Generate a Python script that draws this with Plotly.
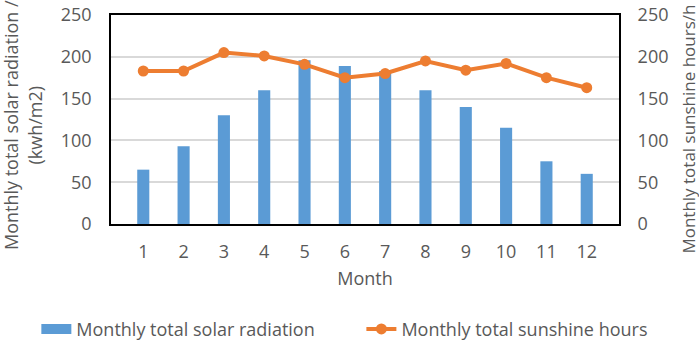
import plotly.graph_objects as go

months = ["1", "2", "3", "4", "5", "6", "7", "8", "9", "10", "11", "12"]
solar_radiation = [65, 93, 130, 160, 196, 189, 183, 160, 140, 115, 75, 60]
sunshine_hours = [183, 183, 205, 201, 191, 175, 180, 195, 184, 192, 175, 163]
y_ticks = [0, 50, 100, 150, 200, 250]

FONT = "Open Sans"
GRAY = "#595959"
BLUE = "#5B9BD5"
ORANGE = "#ED7D31"
FS = 18

fig = go.Figure()
fig.add_trace(go.Bar(
    x=months, y=solar_radiation, name="Monthly total solar radiation",
    marker=dict(color=BLUE, line=dict(width=0)), width=0.3, yaxis="y",
    showlegend=False,
))
# legend-only entry so the legend key is a wide flat bar as in the reference
fig.add_trace(go.Scatter(
    x=[None], y=[None], name="Monthly total solar radiation",
    mode="lines", line=dict(color=BLUE, width=10), legend="legend",
))
fig.add_trace(go.Scatter(
    x=months, y=sunshine_hours, name="Monthly total sunshine hours",
    mode="lines+markers", line=dict(color=ORANGE, width=4),
    marker=dict(color=ORANGE, size=11), yaxis="y2", legend="legend2",
))

legend_common = dict(orientation="h", xref="container", yref="container",
                     xanchor="left", yanchor="middle", y=0.04,
                     font=dict(size=FS, color=GRAY), itemwidth=30,
                     bgcolor="rgba(0,0,0,0)")

fig.update_layout(
    width=699, height=343,
    margin=dict(l=111, r=80, t=15, b=119),
    paper_bgcolor="white", plot_bgcolor="white",
    font=dict(family=FONT, size=FS, color=GRAY),
    showlegend=True,
    legend=dict(x=0.052, **legend_common),
    legend2=dict(x=0.517, **legend_common),
    xaxis=dict(
        title=dict(text="Month", font=dict(size=FS, color=GRAY), standoff=10),
        showline=True, linecolor="black", linewidth=1.5, mirror=True,
        ticks="outside", ticklen=11, tickcolor="rgba(0,0,0,0)",
        tickfont=dict(size=FS, color=GRAY), automargin=False,
    ),
    yaxis=dict(
        range=[0, 250], tickvals=y_ticks,
        showgrid=True, gridcolor="#D9D9D9", gridwidth=1.5,
        showline=True, linecolor="black", linewidth=1.5, mirror=True,
        ticks="outside", ticklen=14, tickcolor="rgba(0,0,0,0)",
        tickfont=dict(size=FS, color=GRAY), zeroline=False,
        automargin=False,
    ),
    yaxis2=dict(
        range=[0, 250], tickvals=y_ticks, overlaying="y", side="right",
        showgrid=False, ticks="outside", ticklen=14, tickcolor="rgba(0,0,0,0)",
        tickfont=dict(size=FS, color=GRAY), zeroline=False,
        automargin=False,
    ),
    annotations=[
        dict(text="Monthly total solar radiation /<br>(kwh/m2)", textangle=-90,
             xref="paper", yref="paper", x=-0.173, y=0.474,
             xanchor="center", yanchor="middle", showarrow=False,
             font=dict(size=FS, color=GRAY)),
        dict(text="Monthly total sunshine hours/h", textangle=-90,
             xref="paper", yref="paper", x=1.136, y=0.452,
             xanchor="center", yanchor="middle", showarrow=False,
             font=dict(size=17, color=GRAY)),
    ],
)

fig.write_html("out.html", config={"displayModeBar": False},
               post_script="document.body.style.margin='0';")
